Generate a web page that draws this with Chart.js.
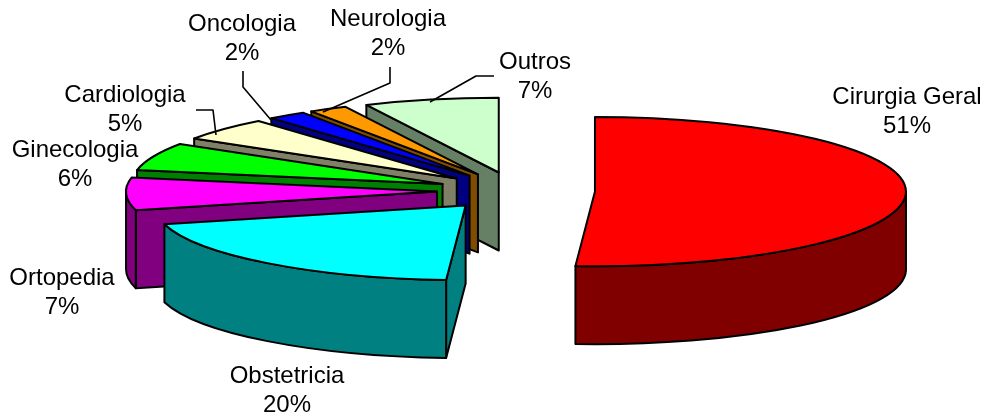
<!DOCTYPE html>
<html>
<head>
<meta charset="utf-8">
<style>
  html, body { margin: 0; padding: 0; background: #fff; }
  canvas { display: block; }
</style>
<script src="https://cdn.jsdelivr.net/npm/chart.js@4"></script>
</head>
<body>
<canvas id="pieChart" width="984" height="416"></canvas>
<script>
var categories = ['Cirurgia Geral', 'Obstetricia', 'Ortopedia', 'Ginecologia', 'Cardiologia', 'Oncologia', 'Neurologia', 'Outros'];
var shares = [51, 20, 7, 6, 5, 2, 2, 7];
var topColors = ['#ff0000', '#00ffff', '#ff00ff', '#00ff00', '#ffffcc', '#0000ff', '#ff9900', '#ccffcc'];
var sideColors = ['#800000', '#008080', '#800080', '#008000', '#808066', '#000080', '#804c00', '#668066'];

// tilt of the pie, how far each slice is pulled out, height of the walls
var SQUASH = 0.24;
var EXPLODE = 79;
var DEPTH = 78;

// centre of each label's two lines
var labelSpots = [[907, 97], [287, 376], [62, 278], [75, 150], [125, 95], [242, 24], [388, 19], [535, 62]];
var LINE_GAP = 29;

var leaderLines = [
    [[243, 71], [243, 87], [271, 120]],
    [[390, 67], [390, 83], [323, 112]],
    [[494, 76], [476, 76], [430, 102]],
    [[196, 110], [213, 110], [216, 135]]
];

function outline(ctx) {
    ctx.lineWidth = 2;
    ctx.strokeStyle = '#000';
    ctx.lineJoin = 'round';
    ctx.stroke();
}

function drawSlice(ctx, arc, color) {
    var start = arc.startAngle, end = arc.endAngle, r = arc.outerRadius;
    var mid = (start + end) / 2;
    var cx = arc.x + Math.cos(mid) * EXPLODE;
    var cy = arc.y + Math.sin(mid) * EXPLODE * SQUASH;
    var ry = r * SQUASH;

    // flat cut faces, only the ones turned towards the viewer
    [[start, Math.cos(start) < -0.001], [end, Math.cos(end) > 0.001]].forEach(function (face) {
        if (!face[1]) return;
        var px = cx + Math.cos(face[0]) * r;
        var py = cy + Math.sin(face[0]) * ry;
        ctx.beginPath();
        ctx.moveTo(cx, cy);
        ctx.lineTo(px, py);
        ctx.lineTo(px, py + DEPTH);
        ctx.lineTo(cx, cy + DEPTH);
        ctx.closePath();
        ctx.fillStyle = color;
        ctx.fill();
        outline(ctx);
    });

    // curved outer wall on the front half
    var from = Math.max(start, 0), to = Math.min(end, Math.PI);
    if (to > from) {
        ctx.beginPath();
        ctx.ellipse(cx, cy, r, ry, 0, from, to);
        ctx.ellipse(cx, cy + DEPTH, r, ry, 0, to, from, true);
        ctx.closePath();
        ctx.fillStyle = color;
        ctx.fill();
        outline(ctx);
    }

    // top face comes from the arc element itself, squashed into an ellipse
    ctx.save();
    ctx.translate(cx, cy);
    ctx.scale(1, SQUASH);
    ctx.translate(-arc.x, -arc.y);
    arc.draw(ctx);
    ctx.restore();

    ctx.beginPath();
    ctx.moveTo(cx, cy);
    ctx.ellipse(cx, cy, r, ry, 0, start, end);
    ctx.closePath();
    outline(ctx);
}

var tiltedPie = {
    id: 'tiltedPie',
    beforeDatasetsDraw: function (chart) {
        var ctx = chart.ctx;
        var arcs = chart.getDatasetMeta(0).data.map(function (arc, i) {
            return { arc: arc, i: i, y: Math.sin((arc.startAngle + arc.endAngle) / 2) };
        });
        // back slices first
        arcs.sort(function (a, b) { return a.y - b.y; });
        arcs.forEach(function (item) {
            drawSlice(ctx, item.arc, sideColors[item.i]);
        });
        return false;
    },
    afterDraw: function (chart) {
        var ctx = chart.ctx;
        ctx.save();
        ctx.strokeStyle = '#000';
        ctx.lineWidth = 1.6;
        leaderLines.forEach(function (line) {
            ctx.beginPath();
            line.forEach(function (p, i) {
                if (i === 0) ctx.moveTo(p[0], p[1]);
                else ctx.lineTo(p[0], p[1]);
            });
            ctx.stroke();
        });
        ctx.fillStyle = '#000';
        ctx.font = '24px "Liberation Sans"';
        ctx.textAlign = 'center';
        ctx.textBaseline = 'middle';
        categories.forEach(function (name, i) {
            ctx.fillText(name, labelSpots[i][0], labelSpots[i][1]);
            ctx.fillText(shares[i] + '%', labelSpots[i][0], labelSpots[i][1] + LINE_GAP);
        });
        ctx.restore();
    }
};

var pieCtx = document.getElementById('pieChart').getContext('2d');
var pieChart = new Chart(pieCtx, {
    type: 'pie',
    data: {
        labels: categories,
        datasets: [{
            data: shares,
            backgroundColor: topColors,
            borderWidth: 0,
            radius: 311
        }]
    },
    options: {
        responsive: false,
        animation: false,
        layout: {
            padding: { left: 48, bottom: 34 }
        },
        plugins: {
            legend: { display: false },
            tooltip: { enabled: false }
        }
    },
    plugins: [tiltedPie]
});
</script>
</body>
</html>
